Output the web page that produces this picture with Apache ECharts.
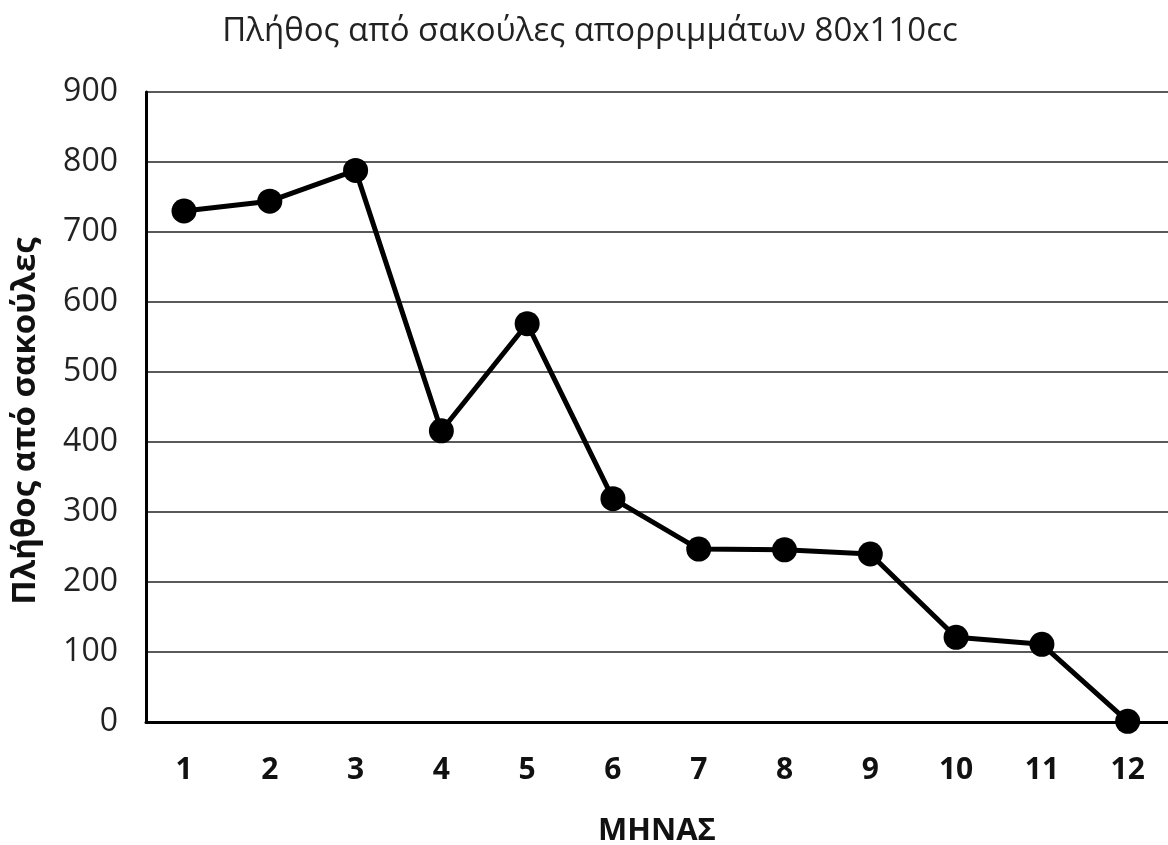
<!DOCTYPE html>
<html>
<head>
<meta charset="utf-8">
<style>
html,body{margin:0;padding:0;background:#fff;}
#c{width:1168px;height:845px;}
</style>
<script src="https://cdn.jsdelivr.net/npm/echarts@6/dist/echarts.min.js"></script>
</head>
<body>
<div id="c"></div>
<script>
const titleText = 'Πλήθος από σακούλες απορριμμάτων 80x110cc';
const yName = 'Πλήθος από σακούλες';
const xName = 'ΜΗΝΑΣ';
const months = [1, 2, 3, 4, 5, 6, 7, 8, 9, 10, 11, 12];
const bags = [730, 744, 788, 416, 569, 319, 247, 246, 240, 121, 111, 1];
const yTicks = [0, 100, 200, 300, 400, 500, 600, 700, 800, 900];

const chart = echarts.init(document.getElementById('c'));
const FONT = '"Open Sans", sans-serif';
chart.setOption({
  backgroundColor: '#fff',
  animation: false,
  title: {
    text: titleText,
    left: 585, top: 10, textAlign: 'center',
    textStyle: {fontFamily: FONT, fontSize: 33, fontWeight: 'normal', color: '#222'}
  },
  grid: {left: 146, right: 0, top: 92, bottom: 123, containLabel: false, outerBoundsMode: 'none'},
  xAxis: {
    type: 'value',
    min: 0.557, max: 12.47,
    name: xName, nameLocation: 'middle', nameGap: 94,
    nameTextStyle: {fontFamily: FONT, fontSize: 31, fontWeight: 'bold', color: '#111'},
    axisLine: {show: true, onZero: false, lineStyle: {color: '#000', width: 3}},
    axisTick: {show: false},
    splitLine: {show: false},
    axisLabel: {
      customValues: months,
      margin: 33,
      fontFamily: FONT, fontSize: 30, fontWeight: 'bold', color: '#111'
    }
  },
  yAxis: {
    type: 'value',
    min: 0, max: 900, interval: 100,
    name: yName, nameLocation: 'middle', nameGap: 104,
    nameTextStyle: {fontFamily: FONT, fontSize: 33, fontWeight: 'bold', color: '#111', padding: [0, 28, 0, 0]},
    axisLine: {show: true, lineStyle: {color: '#000', width: 3}},
    axisTick: {show: false},
    splitLine: {show: true, lineStyle: {color: '#222', width: 1.5}},
    axisLabel: {
      customValues: yTicks,
      margin: 28,
      fontFamily: FONT, fontSize: 32, color: '#222'
    }
  },
  series: [{
    type: 'line',
    data: months.map((m, i) => [m, bags[i]]),
    symbol: 'circle', symbolSize: 25,
    lineStyle: {color: '#000', width: 5},
    itemStyle: {color: '#000'},
    z: 5
  }]
});
</script>
</body>
</html>
